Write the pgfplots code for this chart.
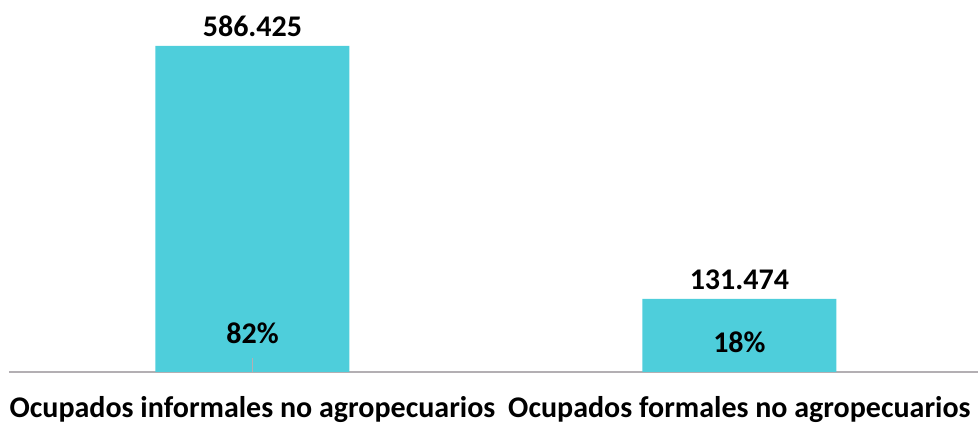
\documentclass[border=0pt]{standalone}
\usepackage{fontspec}
\setmainfont{Carlito}
\usepackage{pgfplots}
\pgfplotsset{compat=1.18}
\definecolor{barcol}{HTML}{4ECEDB}
\definecolor{axcol}{HTML}{B3AFB3}

\begin{document}
\begin{tikzpicture}[x=1pt,y=1pt]
\begin{axis}[
    at={(9pt,53pt)}, anchor=south west,
    scale only axis,
    width=969pt, height=356pt,
    xmin=-0.5, xmax=1.49,
    ymin=0, ymax=640,
    axis x line*=bottom,
    axis y line=none,
    x axis line style={axcol, line width=1.6pt, -},
    xtick={0,1},
    xticklabels={Ocupados informales no agropecuarios, Ocupados formales no agropecuarios},
    major tick length=0pt,
    xtick style={draw=none},
    xticklabel style={font=\fontsize{30}{36}\selectfont\bfseries, yshift=-21pt},
    clip=false,
]
\addplot[ybar, bar width=194pt, fill=barcol, draw=none,
    point meta=explicit symbolic,
    nodes near coords,
    every node near coord/.append style={font=\fontsize{30}{36}\selectfont\bfseries, text=black, anchor=south, yshift=6pt}]
    coordinates {(0,586.425)[586.425] (1,131.474)[131.474]};
\addplot[draw=none, mark=none,
    point meta=explicit symbolic,
    nodes near coords,
    every node near coord/.append style={font=\fontsize{30}{36}\selectfont\bfseries, text=black, anchor=center}]
    coordinates {(0,70)[82\%] (1,54)[18\%]};
\draw[axcol, line width=1pt] (axis cs:0,0) -- (axis cs:0,25);
\end{axis}
\pgfresetboundingbox
\path[use as bounding box] (0,0) rectangle (979,425);
\end{tikzpicture}
\end{document}
